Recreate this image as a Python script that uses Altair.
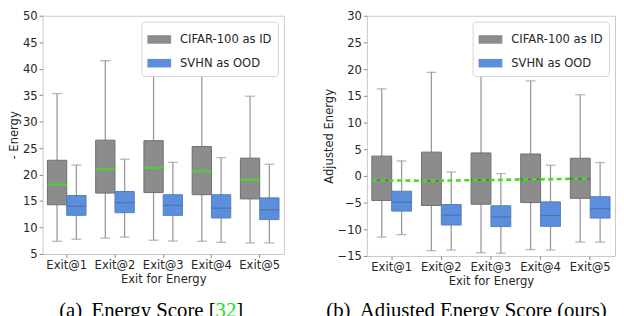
import altair as alt
import pandas as pd

EXITS = ["Exit@1", "Exit@2", "Exit@3", "Exit@4", "Exit@5"]
GROUPS = ["CIFAR-100 as ID", "SVHN as OOD"]
COLORS = ["#8c8c8c", "#5b8fde"]
STROKES = ["#6e6e6e", "#557fb8"]

# Panel (a): - Energy
A_ID_LO = [7.4, 8.0, 7.6, 7.4, 7.1]
A_ID_Q1 = [14.3, 16.5, 16.6, 16.2, 15.4]
A_ID_MED = [18.1, 21.0, 21.3, 20.65, 19.05]
A_ID_Q3 = [22.7, 26.5, 26.4, 25.3, 23.1]
A_ID_HI = [35.3, 41.5, 40.7, 39.0, 34.8]

A_OOD_LO = [7.8, 8.2, 7.45, 7.2, 7.1]
A_OOD_Q1 = [12.3, 12.8, 12.3, 11.8, 11.5]
A_OOD_MED = [14.0, 14.7, 14.2, 13.65, 13.35]
A_OOD_Q3 = [16.05, 16.8, 16.2, 16.2, 15.6]
A_OOD_HI = [21.8, 22.9, 22.3, 23.2, 21.95]

# Panel (b): Adjusted Energy
B_ID_LO = [-11.45, -14.0, -14.4, -13.8, -12.4]
B_ID_Q1 = [-4.6, -5.55, -5.3, -5.0, -4.2]
B_ID_MED = [-0.85, -0.9, -0.8, -0.65, -0.55]
B_ID_Q3 = [3.7, 4.45, 4.3, 4.1, 3.3]
B_ID_HI = [16.3, 19.4, 18.7, 17.8, 15.2]

B_OOD_LO = [-11.0, -13.9, -14.5, -13.9, -12.4]
B_OOD_Q1 = [-6.6, -9.2, -9.5, -9.45, -7.9]
B_OOD_MED = [-4.94, -7.37, -7.68, -7.43, -6.15]
B_OOD_Q3 = [-2.87, -5.36, -5.6, -4.87, -3.9]
B_OOD_HI = [2.8, 0.73, 0.43, 2.0, 2.5]

A_TICKS = [5, 10, 15, 20, 25, 30, 35, 40, 45, 50]
B_TICKS = [-15, -10, -5, 0, 5, 10, 15, 20, 25, 30]

CAP_A = ["(a)\u00a0\u2009Energy Score [", "32", "]"]
CAP_B = "(b)\u00a0\u2009Adjusted Energy Score (ours)"


def stats_df(id_stats, ood_stats):
    rows = []
    for g, st in zip(GROUPS, [id_stats, ood_stats]):
        lo, q1, med, q3, hi = st
        for i, e in enumerate(EXITS):
            rows.append(dict(exit=e, group=g, lo=lo[i], q1=q1[i], med=med[i], q3=q3[i], hi=hi[i]))
    return pd.DataFrame(rows)


def panel(df, ytitle, ticks, width, height, id_med_color, id_med_w, dashed, caption_layers):
    base = alt.Chart(df)
    x = alt.X("exit:N", sort=EXITS, title="Exit for Energy",
              scale=alt.Scale(paddingInner=0.2, paddingOuter=0.1),
              axis=alt.Axis(labelAngle=0, titlePadding=3))
    xo = alt.XOffset("group:N", sort=GROUPS,
                     scale=alt.Scale(domain=GROUPS, paddingInner=0, paddingOuter=0))
    yscale = alt.Scale(domain=[ticks[0], ticks[-1]], nice=False, zero=False)
    y = lambda f: alt.Y(f + ":Q", scale=yscale, title=ytitle,
                        axis=alt.Axis(values=ticks, titlePadding=3))

    whisk = base.mark_rule(color="#9a9a9a", strokeWidth=1.3).encode(
        x=x, xOffset=xo, y=y("lo"), y2="hi:Q")
    cap_lo = base.mark_tick(color="#9a9a9a", size=10, thickness=1.3).encode(
        x=x, xOffset=xo, y=y("lo"))
    cap_hi = base.mark_tick(color="#9a9a9a", size=10, thickness=1.3).encode(
        x=x, xOffset=xo, y=y("hi"))
    box = base.mark_bar(strokeWidth=1).encode(
        x=x, xOffset=xo, y=y("q1"), y2="q3:Q",
        color=alt.Color("group:N", sort=GROUPS,
                        scale=alt.Scale(domain=GROUPS, range=COLORS),
                        legend=alt.Legend(title=None, orient="top-right")),
        stroke=alt.Stroke("group:N", scale=alt.Scale(domain=GROUPS, range=STROKES), legend=None),
    )
    med_id = base.transform_filter(alt.datum.group == GROUPS[0]).mark_tick(
        color=id_med_color, size=20, thickness=id_med_w).encode(x=x, xOffset=xo, y=y("med"))
    med_ood = base.transform_filter(alt.datum.group == GROUPS[1]).mark_tick(
        color="#4d6a90", size=20, thickness=1.3).encode(x=x, xOffset=xo, y=y("med"))

    layers = [whisk, cap_lo, cap_hi, box, med_id, med_ood]
    resolve = False
    if dashed:
        idd = df[df.group == GROUPS[0]]
        rows = []
        for k, (e, m) in enumerate(zip(idd.exit, idd.med)):
            rows.append(dict(exit=e, pos="L", med=m, seq=2 * k))
            rows.append(dict(exit=e, pos="R", med=m, seq=2 * k + 1))
        line = alt.Chart(pd.DataFrame(rows)).mark_line(
            color="#44dd22", strokeWidth=2.6, strokeDash=[5, 3.5]).encode(
            x=x,
            xOffset=alt.XOffset("pos:N", scale=alt.Scale(type="point", domain=["L", "R", "E"], padding=0)),
            y=y("med"),
            order=alt.Order("seq:Q"),
        )
        layers.append(line)
        resolve = True
    layers += caption_layers
    ch = alt.layer(*layers).properties(width=width, height=height)
    if resolve:
        ch = ch.resolve_scale(xOffset="independent")
    return ch


def txt(s, xpos, color, align):
    return alt.Chart(pd.DataFrame({"t": [s]})).mark_text(
        font="Liberation Serif", fontSize=21, color=color, align=align, baseline="alphabetic"
    ).encode(text="t:N", x=alt.value(xpos), y=alt.value(305))


dfa = stats_df([A_ID_LO, A_ID_Q1, A_ID_MED, A_ID_Q3, A_ID_HI],
               [A_OOD_LO, A_OOD_Q1, A_OOD_MED, A_OOD_Q3, A_OOD_HI])
dfb = stats_df([B_ID_LO, B_ID_Q1, B_ID_MED, B_ID_Q3, B_ID_HI],
               [B_OOD_LO, B_OOD_Q1, B_OOD_MED, B_OOD_Q3, B_OOD_HI])

cap_a = [txt(CAP_A[0], 175, "black", "right"), txt(CAP_A[1], 175, "#22dd22", "left"),
         txt(CAP_A[2], 196, "black", "left")]
cap_b = [txt(CAP_B, -41, "black", "left")]

left = panel(dfa, "- Energy", A_TICKS, 244, 241, "#44dd22", 2.6, False, cap_a)
right = panel(dfb, "Adjusted Energy", B_TICKS, 251, 243, "#555555", 1.5, True, cap_b)

chart = alt.hconcat(left, right, spacing=38).properties(
    padding={"left": 0, "top": 0, "right": 0, "bottom": 0}
).resolve_scale(color="independent", stroke="independent", y="independent", x="independent").configure_view(
    stroke="#c8c8c8"
).configure_axis(
    labelFont="DejaVu Sans", titleFont="DejaVu Sans", labelFontSize=11.7, titleFontSize=11.7,
    titleFontWeight="normal", labelColor="#262626", titleColor="#262626",
    tickColor="#8a8a8a", tickSize=3.5, labelPadding=2, domain=False, grid=False,
).configure_legend(
    labelFont="DejaVu Sans", labelFontSize=11.7, labelColor="#262626",
    symbolType="M-1,-0.36H1V0.36H-1Z", symbolSize=576, symbolStrokeWidth=0,
    labelOffset=9, rowPadding=5, padding=6, offset=6, strokeColor="#d6d6d6",
    fillColor="white", cornerRadius=3,
)

chart.save("out.html", embed_options={"renderer": "svg", "actions": False})
